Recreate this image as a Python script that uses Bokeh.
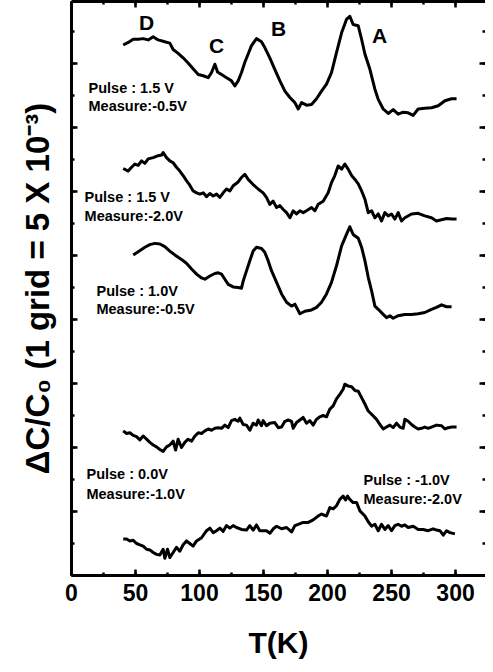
from bokeh.plotting import figure
from bokeh.models import Range1d, LinearAxis, SingleIntervalTicker
from bokeh.core.properties import value
from bokeh.embed import file_html
from bokeh.resources import INLINE

# ---- data (T in K, signal in grid units, curves offset) ----
t_p15_m05 = [40.4,44.3,48.2,52.1,56.0,59.9,63.8,67.7,72.9,76.8,79.4,83.3,87.2,91.1,95.0,99.0,102.9,106.8,109.4,112.0,114.1,117.2,121.1,125.0,127.6,130.2,132.8,135.4,138.0,140.6,144.5,148.4,151.0,154.9,158.8,162.8,166.7,170.6,174.5,177.1,179.7,183.6,187.5,191.4,195.3,199.2,203.1,207.0,211.0,214.8,217.4,220.0,224.0,226.6,229.2,233.1,237.0,239.6,243.5,247.4,251.3,255.2,259.1,263.0,266.9,270.8,276.0,281.2,286.5,291.7,296.9,300.8]
dc_p15_m05 = [8.29,8.33,8.38,8.38,8.39,8.37,8.42,8.37,8.34,8.32,8.22,8.16,8.09,8.01,7.92,7.83,7.81,7.78,7.86,7.99,7.87,7.83,7.78,7.73,7.65,7.73,7.86,8.02,8.15,8.28,8.39,8.34,8.25,8.09,7.91,7.73,7.57,7.47,7.39,7.29,7.39,7.35,7.36,7.45,7.57,7.68,7.86,8.17,8.48,8.69,8.74,8.61,8.59,8.38,8.15,7.91,7.60,7.44,7.29,7.22,7.28,7.21,7.24,7.23,7.19,7.29,7.30,7.31,7.34,7.42,7.45,7.45]

t_p15_m20 = [40.4,44.3,46.9,49.5,52.1,54.7,57.3,59.9,63.8,67.7,70.3,71.6,74.2,76.8,79.4,82.0,84.6,87.2,89.8,92.4,95.0,97.7,100.3,102.9,105.5,108.1,110.7,113.3,115.9,118.5,121.1,123.7,126.3,130.2,132.8,135.4,138.0,141.9,145.8,149.7,152.3,154.9,157.5,160.2,162.8,165.4,168.0,170.6,173.2,175.8,178.4,181.0,183.6,187.5,190.1,192.7,196.6,200.5,203.1,205.7,208.3,211.0,213.5,216.1,218.8,221.4,224.0,226.6,229.2,231.8,234.4,237.0,239.6,242.2,244.8,247.4,250.0,252.6,255.2,257.8,260.4,265.6,270.8,276.0,281.2,285.1,289.1,293.0,296.9,300.8]
dc_p15_m20 = [6.36,6.32,6.38,6.43,6.41,6.48,6.44,6.51,6.53,6.56,6.57,6.61,6.53,6.48,6.45,6.38,6.32,6.25,6.17,6.10,6.01,5.98,5.96,5.98,5.92,5.97,5.93,5.96,5.91,5.98,6.04,6.01,6.09,6.15,6.22,6.27,6.19,6.11,6.04,5.98,5.91,5.80,5.85,5.75,5.78,5.72,5.67,5.59,5.70,5.65,5.70,5.67,5.70,5.75,5.70,5.80,5.85,5.98,6.14,6.25,6.40,6.35,6.43,6.35,6.25,6.19,6.12,6.01,5.88,5.67,5.70,5.59,5.65,5.54,5.67,5.62,5.65,5.57,5.67,5.54,5.59,5.65,5.66,5.62,5.59,5.54,5.56,5.58,5.57,5.57]

t_p10_m05 = [48.2,52.1,57.3,61.2,65.1,69.0,72.9,76.8,80.7,85.9,89.8,93.8,97.7,101.6,104.2,108.1,112.0,114.6,117.2,119.8,122.4,126.3,130.2,132.8,134.1,136.7,139.3,141.9,144.5,148.4,151.0,153.6,156.3,160.2,164.1,168.0,171.9,174.5,175.8,178.4,182.3,187.5,191.4,195.3,199.2,203.1,207.0,211.0,214.8,217.4,220.0,224.0,226.6,229.2,231.8,234.4,237.0,239.6,243.5,246.1,248.7,251.3,255.2,260.4,265.6,270.8,276.0,281.2,285.1,289.1,293.0,296.9]
dc_p10_m05 = [5.01,5.06,5.13,5.17,5.19,5.18,5.14,5.07,5.01,4.94,4.88,4.79,4.71,4.65,4.63,4.68,4.72,4.73,4.71,4.63,4.55,4.51,4.50,4.49,4.60,4.76,4.92,5.07,5.13,5.11,5.05,4.92,4.76,4.58,4.40,4.27,4.21,4.24,4.19,4.09,4.13,4.15,4.19,4.27,4.40,4.58,4.84,5.15,5.33,5.45,5.33,5.27,5.13,4.92,4.66,4.45,4.21,4.16,4.08,4.03,4.06,4.02,4.06,4.08,4.08,4.09,4.11,4.16,4.19,4.23,4.20,4.20]

t_p00_m10 = [40.4,43.0,45.6,48.2,50.8,53.4,56.0,58.6,61.2,63.8,66.4,69.0,71.6,74.2,76.8,79.4,81.3,83.3,85.9,88.5,91.1,93.8,96.4,99.0,101.6,104.2,106.8,109.4,112.0,114.6,117.2,119.8,122.4,125.0,127.6,130.2,131.5,134.1,136.7,139.3,141.9,144.5,145.8,148.4,149.7,152.3,154.9,158.8,161.5,164.1,166.7,169.3,171.9,173.2,175.8,178.4,181.0,183.6,186.2,188.8,191.4,194.0,196.6,199.2,201.8,204.4,207.0,209.6,212.2,213.5,216.1,218.8,221.4,224.0,226.6,229.2,231.8,234.4,238.3,240.9,243.5,246.1,248.7,251.3,253.9,256.5,259.1,260.4,263.0,265.6,268.2,270.8,273.4,276.0,278.6,281.2,285.1,289.1,291.7,294.3,296.9,300.8]
dc_p00_m10 = [2.26,2.22,2.23,2.19,2.17,2.12,2.18,2.13,2.08,2.04,2.01,1.97,1.94,2.01,2.04,2.10,1.96,2.13,2.00,2.08,2.13,2.10,2.18,2.23,2.22,2.26,2.29,2.27,2.30,2.31,2.30,2.35,2.31,2.42,2.44,2.41,2.46,2.36,2.35,2.27,2.38,2.35,2.43,2.34,2.42,2.34,2.38,2.39,2.31,2.32,2.41,2.43,2.41,2.30,2.39,2.43,2.47,2.38,2.42,2.35,2.44,2.48,2.50,2.48,2.60,2.65,2.76,2.83,2.91,2.99,2.96,2.95,2.89,2.88,2.78,2.68,2.57,2.52,2.44,2.36,2.29,2.32,2.35,2.31,2.38,2.32,2.30,2.44,2.41,2.36,2.32,2.29,2.30,2.32,2.30,2.32,2.35,2.34,2.29,2.31,2.32,2.32]

t_m10_m20 = [40.4,43.0,45.6,48.2,50.8,53.4,56.0,58.6,61.2,63.8,66.4,69.0,71.6,72.9,75.0,76.8,79.4,82.0,84.6,87.2,89.8,92.4,95.0,97.7,101.6,105.5,108.1,110.7,113.3,115.9,118.5,121.1,123.7,126.3,128.9,132.8,136.7,139.3,141.9,144.5,147.1,149.7,152.3,155.0,157.6,160.2,164.1,168.0,171.9,174.5,177.1,181.0,184.9,188.8,192.7,195.3,199.2,201.8,204.4,207.0,209.6,212.2,214.1,215.6,217.4,220.0,222.7,225.3,229.2,231.8,234.4,237.0,239.6,242.2,244.8,247.4,250.0,252.6,255.2,257.8,260.4,263.0,266.9,270.8,274.7,278.6,282.5,285.1,287.8,290.4,293.0,295.6,299.5]
dc_m10_m20 = [0.57,0.57,0.54,0.55,0.50,0.48,0.46,0.41,0.40,0.36,0.33,0.32,0.41,0.27,0.41,0.28,0.36,0.44,0.38,0.48,0.54,0.50,0.46,0.54,0.59,0.70,0.74,0.67,0.70,0.74,0.69,0.78,0.74,0.78,0.75,0.72,0.71,0.78,0.71,0.79,0.70,0.70,0.70,0.66,0.73,0.77,0.73,0.75,0.68,0.78,0.80,0.83,0.83,0.87,0.93,0.96,0.93,1.06,1.04,1.09,1.19,1.24,1.18,1.24,1.19,1.14,1.14,1.01,0.93,0.84,0.77,0.80,0.70,0.80,0.72,0.78,0.70,0.78,0.80,0.77,0.79,0.75,0.77,0.72,0.72,0.70,0.73,0.71,0.70,0.63,0.70,0.67,0.65]

peak_names = ["D", "C", "B", "A"]
peak_t = [58.6, 113.3, 161.7, 240.6]
peak_y = [8.64, 8.28, 8.55, 8.44]

cond_text = ["Pulse : 1.5 V", "Measure:-0.5V", "Pulse : 1.5 V", "Measure:-2.0V",
             "Pulse : 1.0V", "Measure:-0.5V", "Pulse : 0.0V", "Measure:-1.0V",
             "Pulse : -1.0V", "Measure:-2.0V"]
cond_t = [13.3, 13.3, 10.2, 10.2, 19.5, 19.5, 11.7, 11.7, 228.1, 228.1]
cond_y = [7.625, 7.34, 5.92, 5.625, 4.45, 4.16, 1.58, 1.28, 1.50, 1.19]

x_ticks_interval = 50
y_grid_interval = 1

FONT = "Liberation Sans"

# canvas sits 8px inside the page: frame spans page x 79..493, y 9..583
p = figure(width=485, height=664, output_backend="svg", toolbar_location=None,
           title=None, x_range=Range1d(0, 323.4), y_range=Range1d(0, 8.97),
           min_border_left=71, min_border_right=0, min_border_top=1, min_border_bottom=89)
p.grid.visible = False
p.outline_line_color = None
p.background_fill_color = "white"
p.border_fill_color = "white"

curves = [(t_p15_m05, dc_p15_m05), (t_p15_m20, dc_p15_m20), (t_p10_m05, dc_p10_m05),
          (t_p00_m10, dc_p00_m10), (t_m10_m20, dc_m10_m20)]
for tx, dy in curves:
    p.line(tx, dy, line_color="black", line_width=3, line_join="round")

p.text(x=peak_t, y=peak_y, text=peak_names, text_font=value(FONT), text_font_style="bold",
       text_font_size="21px", text_align="center", text_baseline="middle", text_color="black")
p.text(x=cond_t, y=cond_y, text=cond_text, text_font=value(FONT), text_font_style="bold",
       text_font_size="14.5px", text_align="left", text_baseline="alphabetic", text_color="black")

def style_axis(ax, labels=True):
    ax.axis_line_width = 3
    ax.axis_line_color = "black"
    ax.major_tick_in = 6
    ax.major_tick_out = 0
    ax.minor_tick_in = 3
    ax.minor_tick_out = 0
    ax.major_tick_line_width = 2.5
    ax.minor_tick_line_width = 2.5
    ax.major_tick_line_color = "black"
    ax.minor_tick_line_color = "black"
    if not labels:
        ax.major_label_text_color = None
        ax.major_label_text_font_size = "1px"
        ax.major_label_standoff = 0

xa = p.xaxis[0]
xa.ticker = SingleIntervalTicker(interval=x_ticks_interval, num_minor_ticks=2)
style_axis(xa)
xa.major_label_text_font = FONT
xa.major_label_text_font_style = "bold"
xa.major_label_text_font_size = "23px"
xa.major_label_text_color = "black"
xa.major_label_standoff = 8
xa.axis_label = "T(K)"
xa.axis_label_text_font = FONT
xa.axis_label_text_font_style = "bold"
xa.axis_label_text_font_size = "30px"
xa.axis_label_text_color = "black"
xa.axis_label_standoff = 22

ya = p.yaxis[0]
ya.ticker = SingleIntervalTicker(interval=y_grid_interval, num_minor_ticks=2)
style_axis(ya, labels=False)
ya.axis_label = "ΔC/C₀ (1 grid = 5 X 10⁻³)"
ya.axis_label_text_font = FONT
ya.axis_label_text_font_style = "bold"
ya.axis_label_text_font_size = "33px"
ya.axis_label_text_color = "black"
ya.axis_label_standoff = 16

top = LinearAxis(ticker=SingleIntervalTicker(interval=x_ticks_interval, num_minor_ticks=2))
style_axis(top, labels=False)
p.add_layout(top, "above")

right = LinearAxis(ticker=SingleIntervalTicker(interval=y_grid_interval, num_minor_ticks=2))
style_axis(right, labels=False)
right.axis_line_color = None
p.add_layout(right, "right")

open("out.html", "w").write(file_html(p, INLINE))
